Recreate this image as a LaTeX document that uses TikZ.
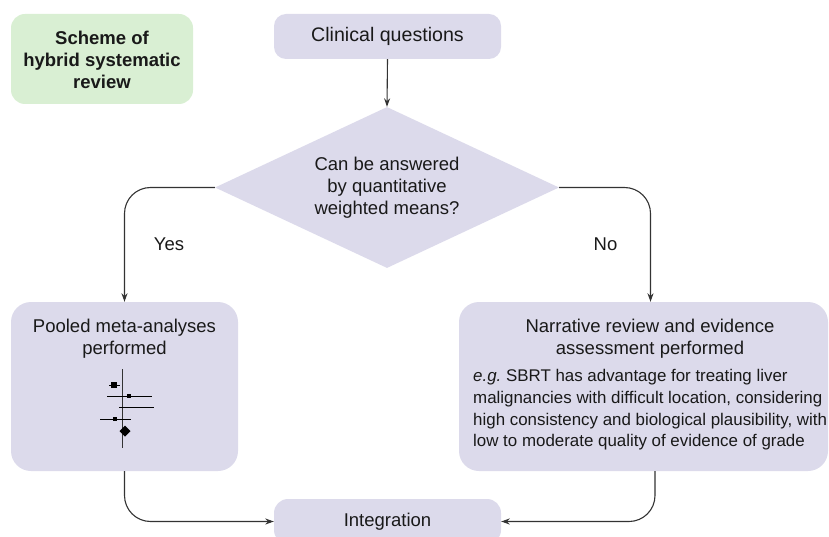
\documentclass[tikz,border=0pt]{standalone}
\usepackage{fontspec}
\setmainfont{Liberation Sans}
\usetikzlibrary{shapes.geometric,arrows.meta}
\definecolor{lav}{HTML}{DCDAEB}
\definecolor{grn}{HTML}{D9EFD3}
\definecolor{ln}{HTML}{333333}
\begin{document}
\begin{tikzpicture}[x=1pt,y=-1pt,
  box/.style={fill=lav, draw=none, rounded corners=#1, inner sep=0},
  lbl/.style={font=\fontsize{18.5}{22}\selectfont, align=center, text=black!90},
  conn/.style={draw=ln, line width=1.1pt, rounded corners=26, -{Stealth[length=8.5pt,width=6pt]}},
  bar/.style={draw=black, line width=1pt},
]
\useasboundingbox (0,0) rectangle (829,537);

% title
\node[box=14, fill=grn, minimum width=182, minimum height=90] (title) at (102,59) {};
\node[lbl, font=\bfseries\fontsize{18.5}{22}\selectfont] (titletxt) at (102,60) {Scheme of\\hybrid systematic\\review};

% clinical questions
\node[box=12, lbl, font=\fontsize{19.6}{22}\selectfont, minimum width=227, minimum height=45] (cq) at (387.5,36.5) {Clinical questions};

% decision
\node[diamond, fill=lav, inner sep=0, aspect=2.14, minimum width=344, minimum height=161, lbl] (q) at (387,187.5) {Can be answered\\by quantitative\\weighted means?};

% pooled
\node[box=20, minimum width=227, minimum height=169] (pool) at (124.5,386.5) {};
\node[lbl] (pooltxt) at (124.5,339) {Pooled meta-analyses\\performed};

% forest plot
\draw[ln, line width=1pt] (122,369) -- (122,448);
\draw[bar] (109,385) -- (120,385);
\fill (110.8,381.8) rectangle ++(6.4,6.4);
\draw[bar] (107,396) -- (152,396);
\fill (127,394) rectangle ++(4,4);
\draw[bar] (119,407) -- (154,407);
\draw[bar] (100,419) -- (131,419);
\fill (112.7,416.7) rectangle ++(4.6,4.6);
\fill (119.5,431) -- (125,425.5) -- (130.5,431) -- (125,436.5) -- cycle;

% narrative
\node[box=20, minimum width=369, minimum height=169] (narr) at (643.5,386.5) {};
\node[lbl] (narrtitle) at (650,339) {Narrative review and evidence\\assessment performed};
\node[font=\fontsize{16.9}{21.7}\selectfont, align=left, anchor=west, inner sep=0, text=black!90] (narrbody) at (473,410)
  {\textit{e.g.}\ SBRT has advantage for treating liver\\malignancies with difficult location, considering\\high consistency and biological plausibility, with\\low to moderate quality of evidence of grade};

% integration
\node[box=14, lbl, minimum width=227, minimum height=45] (integ) at (387.5,521.5) {Integration};

% labels
\node[lbl] (yes) at (169,244) {Yes};
\node[lbl] (no) at (605.5,244) {No};

% connectors
\draw[conn] (cq.south) -- (q.north);
\draw[conn] (q.west) -| (pool.north);
\draw[conn] (q.east) -| ([xshift=7]narr.north);
\draw[conn] (pool.south) |- (integ.west);
\draw[conn] ([xshift=11.5]narr.south) |- (integ.east);
\end{tikzpicture}
\end{document}
